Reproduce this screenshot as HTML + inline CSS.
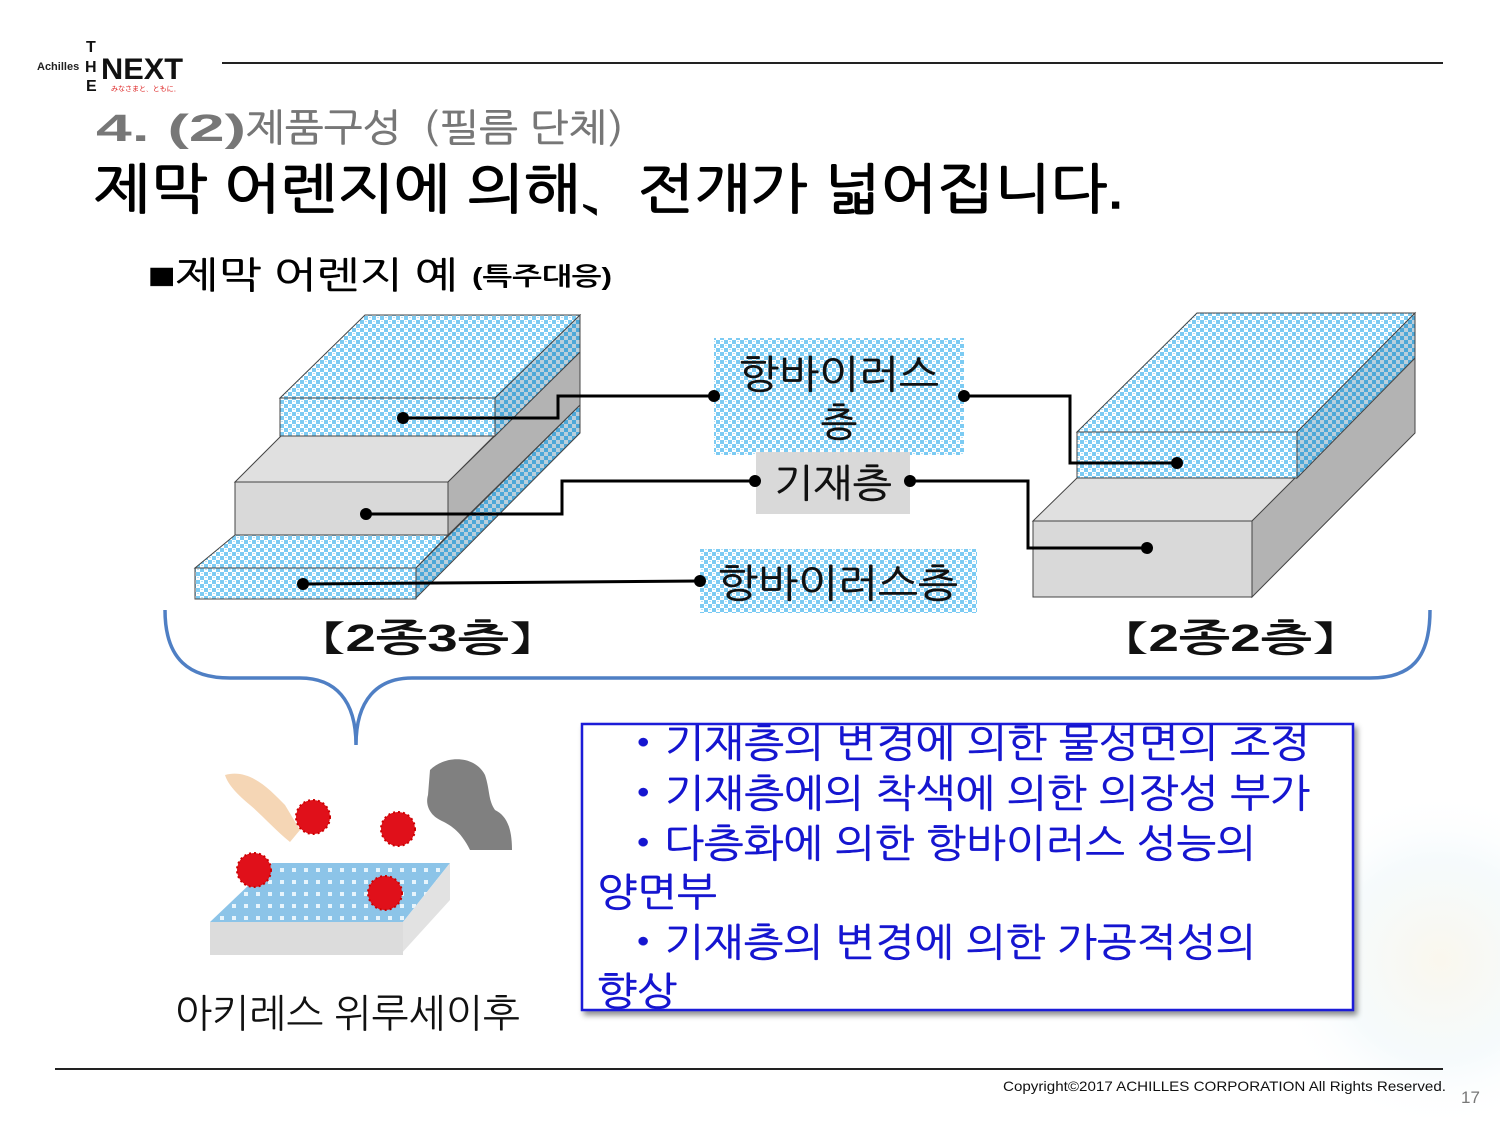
<!DOCTYPE html>
<html><head><meta charset="utf-8"><style>
html,body{margin:0;padding:0;background:#fff;}
svg{display:block;}
text{font-family:"Liberation Sans","NanumGothic","Noto Sans CJK KR",sans-serif;}
</style></head><body>
<svg width="1500" height="1125" viewBox="0 0 1500 1125" xmlns="http://www.w3.org/2000/svg">
<defs>
<pattern id="chk" width="8" height="8" patternUnits="userSpaceOnUse">
<rect width="8" height="8" fill="#fff"/>
<rect x="0" y="0" width="4" height="4" fill="#7ccbf3"/>
<rect x="4" y="4" width="4" height="4" fill="#7ccbf3"/>
<rect x="1" y="5" width="2" height="1" fill="#b4e1f7"/>
<rect x="5" y="1" width="2" height="1" fill="#b4e1f7"/>
</pattern>
<pattern id="chkd" width="8" height="8" patternUnits="userSpaceOnUse">
<rect width="8" height="8" fill="#b9cfdc"/>
<rect x="0" y="0" width="4" height="4" fill="#4ea8d8"/>
<rect x="4" y="4" width="4" height="4" fill="#4ea8d8"/>
</pattern>
<pattern id="dots" width="12" height="12" patternUnits="userSpaceOnUse">
<rect width="12" height="12" fill="#8cc4e8"/>
<rect x="4" y="4" width="4" height="4" fill="#e6f4fc"/>
</pattern>
<radialGradient id="glow" cx="0.5" cy="0.5" r="0.5">
<stop offset="0" stop-color="#f5efdc" stop-opacity="0.5"/>
<stop offset="0.6" stop-color="#e8f4f8" stop-opacity="0.4"/>
<stop offset="1" stop-color="#fff" stop-opacity="0"/>
</radialGradient>
<filter id="sh" x="-5%" y="-5%" width="115%" height="115%"><feDropShadow dx="3" dy="4" stdDeviation="3" flood-color="#000" flood-opacity="0.45"/></filter>
</defs>

<circle cx="1440" cy="960" r="170" fill="url(#glow)"/>

<!-- header -->
<text x="37" y="70" font-size="11" font-weight="bold" fill="#222">Achilles</text>
<text x="86" y="52" font-size="16" font-weight="bold" fill="#111">T</text>
<text x="85" y="72" font-size="16" font-weight="bold" fill="#111">H</text>
<text x="86" y="91" font-size="16" font-weight="bold" fill="#111">E</text>
<text x="101" y="79" font-size="30" font-weight="bold" fill="#111" textLength="82" lengthAdjust="spacingAndGlyphs">NEXT</text>
<text x="111" y="91" font-size="7" fill="#d22">みなさまと、ともに。</text>
<line x1="222" y1="63" x2="1443" y2="63" stroke="#222" stroke-width="2"/>

<!-- titles -->
<text x="96" y="141" font-size="38" font-weight="bold" fill="#777" textLength="150" lengthAdjust="spacingAndGlyphs">4. (2)</text>
<text x="246" y="141" font-size="38" fill="#777" stroke="#777" stroke-width="0.6" textLength="400" lengthAdjust="spacingAndGlyphs">제품구성（필름 단체）</text>
<text x="94" y="208" font-size="54" fill="#000" stroke="#000" stroke-width="1.4" textLength="1030" lengthAdjust="spacingAndGlyphs">제막 어렌지에 의해、전개가 넓어집니다.</text>
<text x="148" y="288" font-size="37" fill="#000" stroke="#000" stroke-width="0.5" textLength="310" lengthAdjust="spacingAndGlyphs">■제막 어렌지 예</text>
<text x="472" y="285" font-size="25" font-weight="bold" fill="#000" textLength="140" lengthAdjust="spacingAndGlyphs">(특주대응)</text>

<!-- left block -->
<g stroke="#444" stroke-width="1">
<polygon points="195,568 416,568 448,535 235,535" fill="url(#chk)"/>
<polygon points="416,568 580,405 580,433 416,598" fill="url(#chkd)"/>
<rect x="195" y="568" width="221" height="31" fill="url(#chk)"/>
<polygon points="235,482 448,482 495,435 282,435" fill="#e0e0e0"/>
<polygon points="448,482 580,352 580,405 448,535" fill="#b3b3b3"/>
<rect x="235" y="482" width="213" height="53" fill="#d9d9d9"/>
<polygon points="280,398 495,398 580,315 365,315" fill="url(#chk)"/>
<polygon points="495,398 580,315 580,352 495,436" fill="url(#chkd)"/>
<rect x="280" y="398" width="215" height="38" fill="url(#chk)"/>
</g>

<!-- right block -->
<g stroke="#444" stroke-width="1">
<polygon points="1033,521 1252,521 1297,478 1077,478" fill="#e0e0e0"/>
<polygon points="1252,521 1415,358 1415,433 1252,597" fill="#b3b3b3"/>
<rect x="1033" y="521" width="219" height="76" fill="#d9d9d9"/>
<polygon points="1077,432 1297,432 1415,313 1197,313" fill="url(#chk)"/>
<polygon points="1297,432 1415,313 1415,358 1297,478" fill="url(#chkd)"/>
<rect x="1077" y="432" width="220" height="46" fill="url(#chk)"/>
</g>

<!-- label boxes -->
<rect x="714" y="338" width="250" height="117" fill="url(#chk)"/>
<rect x="756" y="452" width="154" height="62" fill="#d9d9d9"/>
<rect x="700" y="549" width="277" height="64" fill="url(#chk)"/>
<g fill="#111" stroke="#111" stroke-width="0.5">
<text x="839" y="388" font-size="39" text-anchor="middle" textLength="200" lengthAdjust="spacingAndGlyphs">항바이러스</text>
<text x="839" y="436" font-size="39" text-anchor="middle">층</text>
<text x="833" y="497" font-size="39" text-anchor="middle" textLength="118" lengthAdjust="spacingAndGlyphs">기재층</text>
<text x="838" y="597" font-size="39" text-anchor="middle" textLength="240" lengthAdjust="spacingAndGlyphs">항바이러스층</text>
</g>

<!-- connectors -->
<g stroke="#000" stroke-width="3" fill="none">
<polyline points="403,418 558,418 558,396 714,396"/>
<polyline points="964,396 1070,396 1070,463 1177,463"/>
<polyline points="366,514 562,514 562,481 755,481"/>
<polyline points="910,481 1028,481 1028,548 1147,548"/>
<polyline points="303,584 700,581"/>
</g>
<g fill="#000">
<circle cx="403" cy="418" r="6"/><circle cx="714" cy="396" r="6"/>
<circle cx="964" cy="396" r="6"/><circle cx="1177" cy="463" r="6"/>
<circle cx="366" cy="514" r="6"/><circle cx="755" cy="481" r="6"/>
<circle cx="910" cy="481" r="6"/><circle cx="1147" cy="548" r="6"/>
<circle cx="303" cy="584" r="6"/><circle cx="700" cy="581" r="6"/>
</g>

<text x="325" y="651" font-size="38" font-weight="bold" fill="#111" textLength="205" lengthAdjust="spacingAndGlyphs">【2종3층】</text>
<text x="1128" y="651" font-size="38" font-weight="bold" fill="#111" textLength="205" lengthAdjust="spacingAndGlyphs">【2종2층】</text>

<path d="M165,610 C165,660 190,678 230,678 L300,678 C335,678 356,700 356,745 C356,700 377,678 412,678 L1370,678 C1410,678 1430,660 1430,610" fill="none" stroke="#4f7fc4" stroke-width="3.5"/>

<!-- illustration -->
<path d="M225,775 C250,768 270,790 285,805 L300,830 L290,842 C275,830 262,815 250,805 C238,795 228,785 225,775 Z" fill="#f3cfa8" opacity="0.85"/>
<path d="M430,770 C445,755 475,755 485,775 C490,790 488,800 495,810 C505,815 512,825 512,850 L470,850 C460,830 450,825 440,820 C430,815 425,805 428,795 Z" fill="#6a6a6a" opacity="0.85"/>
<polygon points="210,922 403,922 450,863 272,863" fill="url(#dots)"/>
<polygon points="403,922 450,863 450,900 400,955" fill="#e2e2e2"/>
<rect x="210" y="922" width="193" height="33" fill="#dcdcdc"/>
<g fill="#e0101a" stroke="#c00" stroke-width="2" stroke-dasharray="2 3">
<circle cx="313" cy="817" r="17"/>
<circle cx="398" cy="829" r="17"/>
<circle cx="254" cy="870" r="17"/>
<circle cx="385" cy="893" r="17"/>
</g>
<text x="175" y="1027" font-size="39" fill="#111" textLength="345" lengthAdjust="spacingAndGlyphs">아키레스 위루세이후</text>

<!-- text box -->
<rect x="582" y="724" width="771" height="286" fill="#fff" stroke="#1a1ad8" stroke-width="2.5" filter="url(#sh)"/>
<g font-size="39" fill="#1515d0" stroke="#1515d0" stroke-width="0.5">
<text x="622" y="757" textLength="688" lengthAdjust="spacingAndGlyphs">・기재층의 변경에 의한 물성면의 조정</text>
<text x="622" y="807" textLength="688" lengthAdjust="spacingAndGlyphs">・기재층에의 착색에 의한 의장성 부가</text>
<text x="622" y="857" textLength="634" lengthAdjust="spacingAndGlyphs">・다층화에 의한 항바이러스 성능의</text>
<text x="597" y="906" textLength="120" lengthAdjust="spacingAndGlyphs">양면부</text>
<text x="622" y="956" textLength="634" lengthAdjust="spacingAndGlyphs">・기재층의 변경에 의한 가공적성의</text>
<text x="597" y="1005" textLength="80" lengthAdjust="spacingAndGlyphs">향상</text>
</g>

<line x1="55" y1="1069" x2="1443" y2="1069" stroke="#222" stroke-width="2"/>
<text x="1003" y="1091" font-size="14" fill="#111" textLength="443" lengthAdjust="spacingAndGlyphs">Copyright©2017 ACHILLES CORPORATION All Rights Reserved.</text>
<text x="1461" y="1103" font-size="17" fill="#777">17</text>
</svg>
</body></html>
